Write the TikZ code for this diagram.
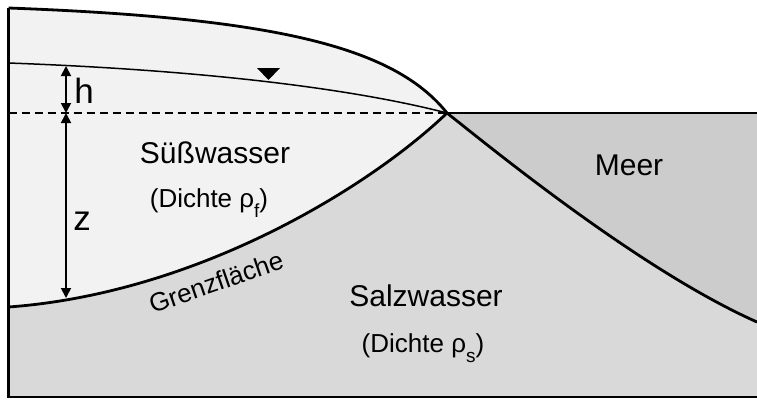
\documentclass[tikz,border=0pt]{standalone}
\usepackage{fontspec}
\setmainfont{Liberation Sans}
\usetikzlibrary{arrows.meta}

\definecolor{fresh}{HTML}{F2F2F2}
\definecolor{salt}{HTML}{D9D9D9}
\definecolor{sea}{HTML}{CCCCCC}

\tikzset{
  thickline/.style={line width=2.8pt, line join=round},
  thinline/.style={line width=1.5pt},
  dimarrow/.style={line width=1.8pt,
    {Triangle[width=10pt,length=10pt]}-{Triangle[width=10pt,length=10pt]}},
  bigtxt/.style={inner sep=0pt, anchor=base, font=\fontsize{30}{36}\selectfont},
  midtxt/.style={inner sep=0pt, anchor=base, font=\fontsize{26}{30}\selectfont},
  symtxt/.style={inner sep=0pt, anchor=base, font=\fontsize{35}{40}\selectfont},
  smalltxt/.style={inner sep=0pt, font=\fontsize{26}{30}\selectfont},
}

\newcommand{\subidx}[1]{\raisebox{-0.4em}{\fontsize{19}{21}\selectfont #1}}

\begin{document}
\begin{tikzpicture}[x=1pt, y=-1pt]
  \useasboundingbox (0,0) rectangle (757,399);

  % key points
  \coordinate (tl)   at (8.5,8);
  \coordinate (bl)   at (8.5,397);
  \coordinate (br)   at (757,397);
  \coordinate (meet) at (447,113);
  \coordinate (seaR) at (757,113);
  \coordinate (bedR) at (757,322);
  \coordinate (ifL)  at (8.5,307);
  \coordinate (wtL)  at (8.5,63);
  \coordinate (dashL) at (8.5,113);
  \coordinate (hTop) at (66,66);
  \coordinate (hBot) at (66,113);
  \coordinate (zBot) at (66,298);

  % salt water body
  \fill[salt] (ifL) .. controls (200,293) and (372,185) .. (meet)
    .. controls (490,147) and (640,270) .. (bedR) -- (br) -- (bl) -- cycle;
  % sea
  \fill[sea] (meet) -- (seaR) -- (bedR)
    .. controls (640,270) and (490,147) .. (meet) -- cycle;
  % fresh water lens
  \fill[fresh] (tl) .. controls (280,18) and (395,48) .. (meet)
    .. controls (372,185) and (200,293) .. (ifL) -- cycle;

  % water table and reference level
  \draw[thinline] (wtL) .. controls (200,70) and (350,88) .. (meet);
  \draw[thinline, dash pattern=on 8pt off 5pt] (dashL) -- (meet);

  % water table symbol
  \fill (257,68) -- (280,68) -- (268.5,80) -- cycle;

  % land surface and sea bed
  \draw[thickline] (tl) .. controls (280,18) and (395,48) .. (meet)
    .. controls (490,147) and (640,270) .. (bedR);
  % interface
  \draw[thickline] (ifL) .. controls (200,293) and (372,185) .. (meet);
  % sea surface
  \draw[thickline] (meet) -- (seaR);
  % frame
  \draw[thickline, line join=miter] (tl) -- (bl) -- (br);

  % dimension arrows
  \draw[dimarrow] (hTop) -- (hBot);
  \draw[dimarrow] (hBot) -- (zBot);

  % labels
  \node[symtxt] (hlbl) at (84,103) {h};
  \node[symtxt] (zlbl) at (82,230) {z};
  \node[bigtxt] (fwlbl) at (215,163) {Süßwasser};
  \node[midtxt] (fwrho) at (209,207) {(Dichte ρ\subidx{f})};
  \node[bigtxt] (meer) at (629,175) {Meer};
  \node[bigtxt] (swlbl) at (426,306) {Salzwasser};
  \node[midtxt] (swrho) at (423,352) {(Dichte ρ\subidx{s})};
  \node[smalltxt, rotate=19] (gflbl) at (216,282) {Grenzfläche};
\end{tikzpicture}
\end{document}
